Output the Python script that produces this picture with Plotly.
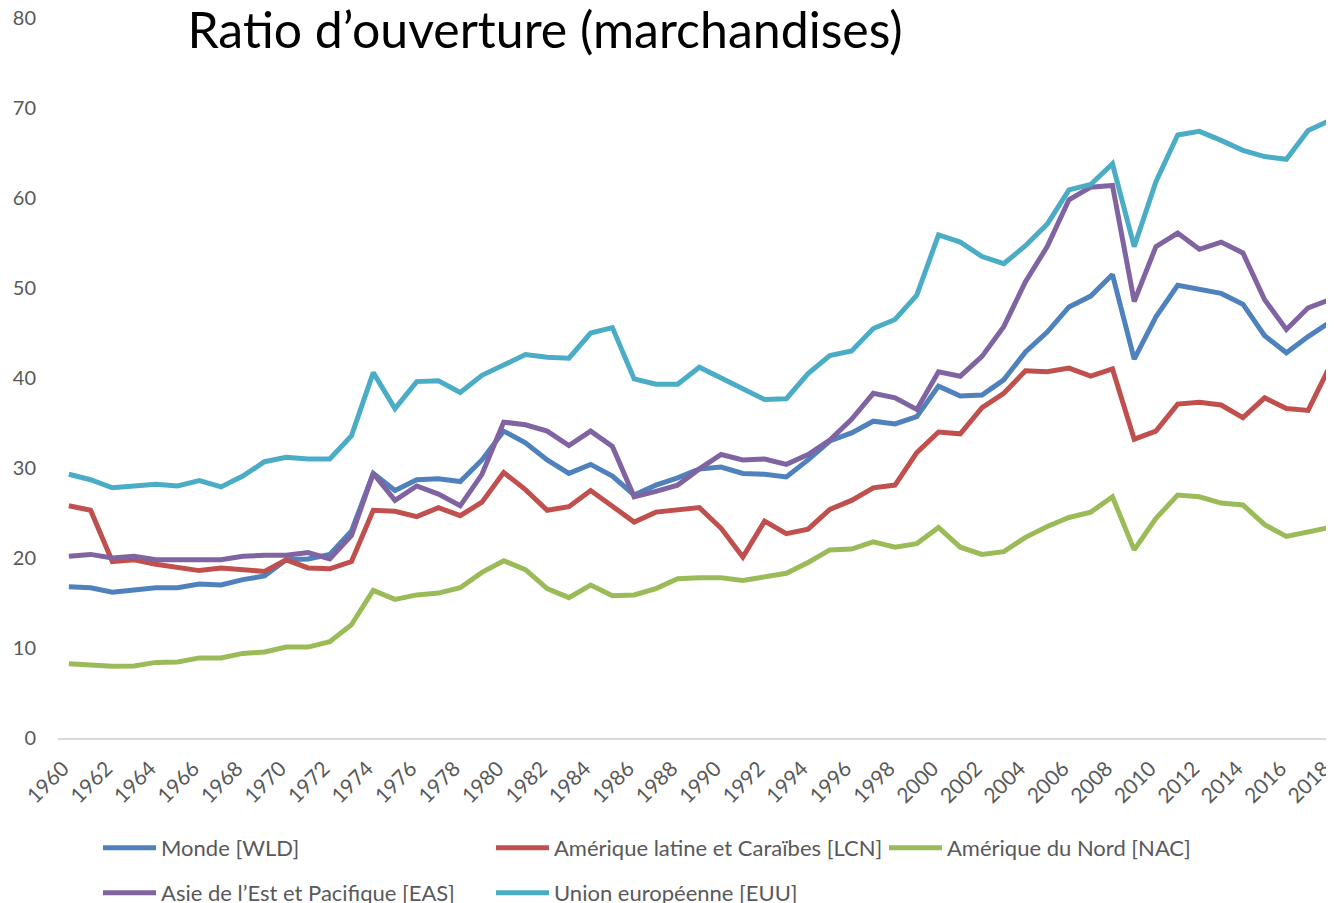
import plotly.graph_objects as go

years = list(range(1960, 2019))

monde = [16.8, 16.7, 16.2, 16.4, 16.7, 16.7, 17.1, 17.0, 17.6, 18.0,
         19.8, 19.9, 20.4, 23.0, 29.4, 27.5, 28.7, 28.8, 28.5, 30.9,
         34.1, 32.8, 30.9, 29.4, 30.4, 29.1, 27.0, 28.1, 28.9, 29.9,
         30.1, 29.4, 29.3, 29.0, 30.9, 33.0, 33.9, 35.2, 34.9, 35.7,
         39.1, 38.0, 38.1, 39.8, 42.9, 45.1, 47.9, 49.1, 51.5, 42.1,
         46.8, 50.3, 49.8, 49.4, 48.2, 44.7, 42.8, 44.6, 46.2]

amerique_latine = [25.8, 25.3, 19.6, 19.8, 19.3, 19.0, 18.6, 18.9, 18.7, 18.5,
                   19.8, 18.9, 18.8, 19.6, 25.3, 25.2, 24.6, 25.6, 24.7, 26.2,
                   29.5, 27.6, 25.3, 25.7, 27.5, 25.7, 24.0, 25.1, 25.4, 25.6,
                   23.3, 20.1, 24.1, 22.7, 23.2, 25.4, 26.4, 27.8, 28.1, 31.7,
                   34.0, 33.8, 36.7, 38.3, 40.8, 40.7, 41.1, 40.2, 41.0, 33.2,
                   34.1, 37.1, 37.3, 37.0, 35.6, 37.8, 36.6, 36.4, 41.3]

amerique_nord = [8.25, 8.05, 7.96, 8.0, 8.4, 8.45, 8.9, 8.9, 9.4, 9.55,
                 10.1, 10.1, 10.7, 12.6, 16.4, 15.4, 15.9, 16.1, 16.7, 18.4,
                 19.7, 18.7, 16.6, 15.6, 17.0, 15.8, 15.9, 16.6, 17.7, 17.8,
                 17.8, 17.5, 17.9, 18.3, 19.5, 20.9, 21.0, 21.8, 21.2, 21.6,
                 23.4, 21.2, 20.4, 20.7, 22.3, 23.5, 24.5, 25.1, 26.8, 20.9,
                 24.4, 27.0, 26.8, 26.1, 25.9, 23.7, 22.4, 22.9, 23.4]

asie_est = [20.2, 20.4, 20.0, 20.2, 19.8, 19.85, 19.8, 19.8, 20.2, 20.3,
            20.3, 20.6, 19.9, 22.5, 29.4, 26.4, 28.0, 27.1, 25.8, 29.3,
            35.1, 34.8, 34.1, 32.5, 34.1, 32.4, 26.8, 27.4, 28.1, 29.9,
            31.5, 30.9, 31.0, 30.4, 31.5, 33.1, 35.4, 38.3, 37.8, 36.5,
            40.7, 40.2, 42.4, 45.7, 50.7, 54.6, 59.8, 61.2, 61.4, 48.5,
            54.6, 56.1, 54.3, 55.1, 53.9, 48.7, 45.4, 47.8, 48.7]

union_europeenne = [29.3, 28.7, 27.8, 27.95, 28.2, 28.0, 28.6, 27.9, 29.1, 30.7,
                    31.2, 31.0, 31.0, 33.6, 40.6, 36.6, 39.6, 39.7, 38.4, 40.3,
                    41.4, 42.6, 42.3, 42.2, 45.0, 45.6, 39.9, 39.3, 39.3, 41.2,
                    40.0, 38.8, 37.6, 37.7, 40.5, 42.5, 43.0, 45.5, 46.5, 49.2,
                    55.9, 55.1, 53.5, 52.7, 54.7, 57.1, 60.9, 61.5, 63.8, 54.6,
                    61.8, 67.0, 67.4, 66.4, 65.3, 64.6, 64.3, 67.5, 68.6]

names = ["Monde [WLD]", "Amérique latine et Caraïbes [LCN]", "Amérique du Nord [NAC]",
         "Asie de l’Est et Pacifique [EAS]", "Union européenne [EUU]"]
series = [monde, amerique_latine, amerique_nord, asie_est, union_europeenne]
colors = ["#4F81BD", "#C0504D", "#9BBB59", "#8064A2", "#4BACC6"]
legends = ["legend", "legend", "legend", "legend2", "legend2"]

title_text = "Ratio d’ouverture (marchandises)"

# the page body has an 8px margin, so the figure is drawn 8px in from the window corner
W, H = 1326, 895
FONT = "Lato"
GREY = "#595959"

fig = go.Figure()
for name, vals, col, lg in zip(names, series, colors, legends):
    fig.add_trace(go.Scatter(x=years, y=vals, mode="lines", name=name,
                             line=dict(color=col, width=5, shape="linear"),
                             legend=lg))

legend_common = dict(orientation="h", xref="container", yref="container",
                     x=90 / W, xanchor="left", yanchor="middle",
                     font=dict(family=FONT, size=22, color=GREY),
                     itemwidth=53, entrywidth=325, entrywidthmode="pixels",
                     bgcolor="rgba(0,0,0,0)", borderwidth=0, traceorder="normal")

fig.update_layout(
    width=W, height=H,
    margin=dict(l=50, r=0, t=10, b=165, autoexpand=False),
    paper_bgcolor="white", plot_bgcolor="white",
    showlegend=True,
    title=dict(text=title_text, xref="container", yref="container",
               x=537 / W, xanchor="center", y=1 - 22 / H, yanchor="middle",
               font=dict(family=FONT, size=50, color="#000000")),
    legend=dict(legend_common, y=1 - 840 / H),
    legend2=dict(legend_common, y=1 - 885 / H),
    xaxis=dict(range=[1959.5, 2018.19], tickmode="linear", tick0=1960, dtick=2,
               tickangle=-45, showgrid=False, zeroline=False, automargin=False,
               showline=True, linecolor="#D9D9D9", linewidth=2,
               ticks="", ticklabelstandoff=8, ticklabelshift=-6,
               ticklabeloverflow="allow",
               tickfont=dict(family=FONT, size=21, color=GREY)),
    yaxis=dict(range=[0, 80], tickmode="linear", tick0=0, dtick=10,
               showgrid=False, zeroline=False, showline=False, ticks="",
               automargin=False, ticklabelstandoff=21, ticklabeloverflow="allow",
               tickfont=dict(family=FONT, size=20, color=GREY)),
)

fig.write_html("out.html")
